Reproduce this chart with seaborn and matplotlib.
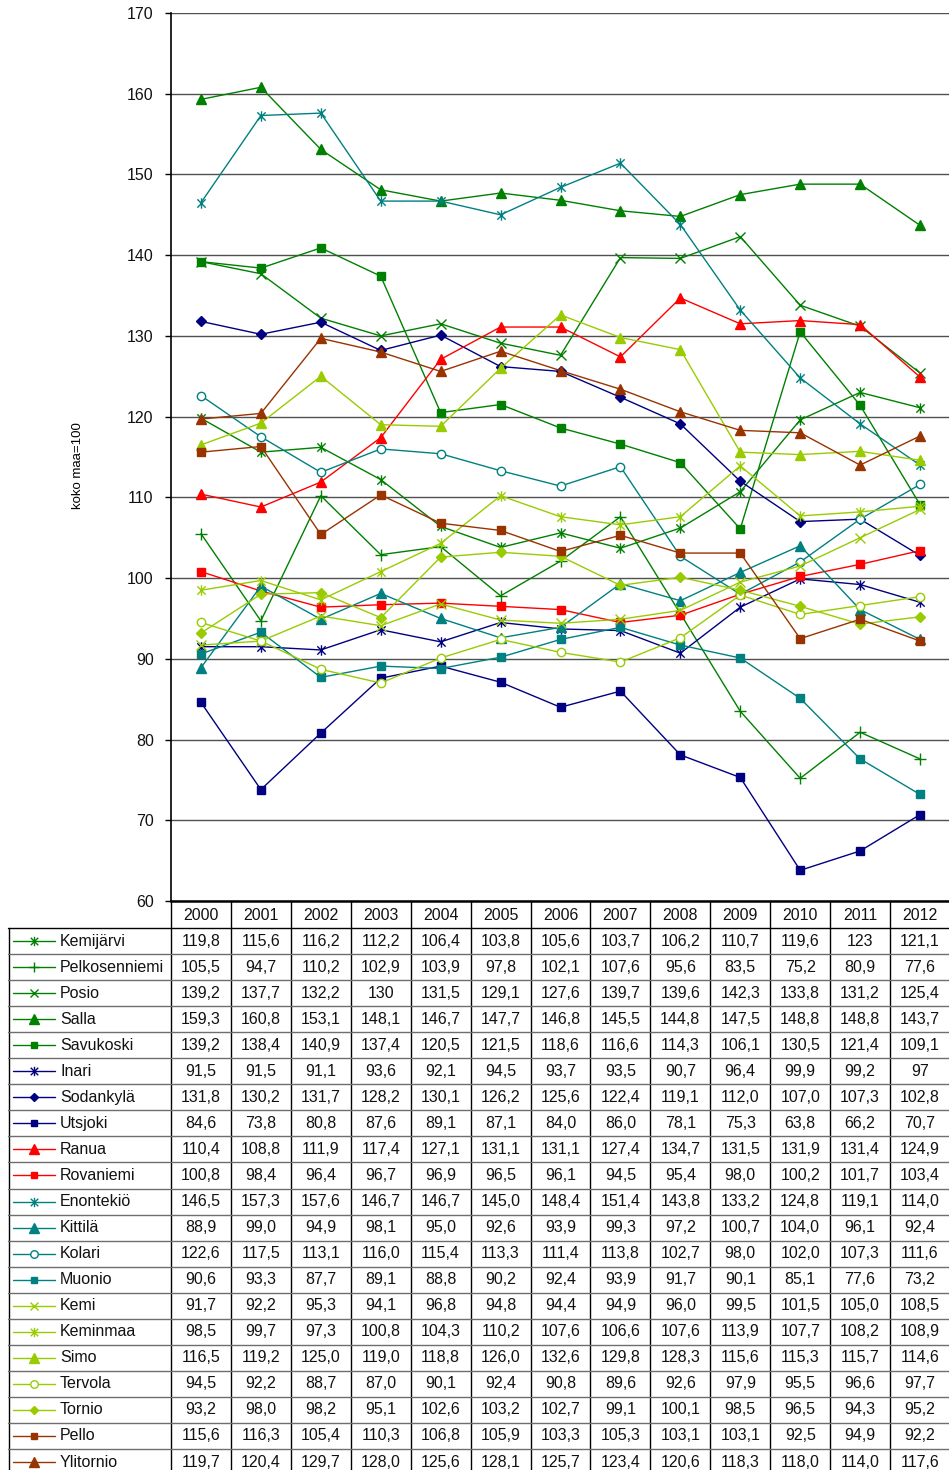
import numpy as np
import pandas as pd
import matplotlib
matplotlib.use("Agg")
import matplotlib.pyplot as plt
from matplotlib.path import Path
import seaborn as sns

# ---------------- data ----------------
years = [2000, 2001, 2002, 2003, 2004, 2005, 2006, 2007, 2008, 2009, 2010, 2011, 2012]

kemijarvi     = [119.8, 115.6, 116.2, 112.2, 106.4, 103.8, 105.6, 103.7, 106.2, 110.7, 119.6, 123.0, 121.1]
pelkosenniemi = [105.5, 94.7, 110.2, 102.9, 103.9, 97.8, 102.1, 107.6, 95.6, 83.5, 75.2, 80.9, 77.6]
posio         = [139.2, 137.7, 132.2, 130.0, 131.5, 129.1, 127.6, 139.7, 139.6, 142.3, 133.8, 131.2, 125.4]
salla         = [159.3, 160.8, 153.1, 148.1, 146.7, 147.7, 146.8, 145.5, 144.8, 147.5, 148.8, 148.8, 143.7]
savukoski     = [139.2, 138.4, 140.9, 137.4, 120.5, 121.5, 118.6, 116.6, 114.3, 106.1, 130.5, 121.4, 109.1]
inari         = [91.5, 91.5, 91.1, 93.6, 92.1, 94.5, 93.7, 93.5, 90.7, 96.4, 99.9, 99.2, 97.0]
sodankyla     = [131.8, 130.2, 131.7, 128.2, 130.1, 126.2, 125.6, 122.4, 119.1, 112.0, 107.0, 107.3, 102.8]
utsjoki       = [84.6, 73.8, 80.8, 87.6, 89.1, 87.1, 84.0, 86.0, 78.1, 75.3, 63.8, 66.2, 70.7]
ranua         = [110.4, 108.8, 111.9, 117.4, 127.1, 131.1, 131.1, 127.4, 134.7, 131.5, 131.9, 131.4, 124.9]
rovaniemi     = [100.8, 98.4, 96.4, 96.7, 96.9, 96.5, 96.1, 94.5, 95.4, 98.0, 100.2, 101.7, 103.4]
enontekio     = [146.5, 157.3, 157.6, 146.7, 146.7, 145.0, 148.4, 151.4, 143.8, 133.2, 124.8, 119.1, 114.0]
kittila       = [88.9, 99.0, 94.9, 98.1, 95.0, 92.6, 93.9, 99.3, 97.2, 100.7, 104.0, 96.1, 92.4]
kolari        = [122.6, 117.5, 113.1, 116.0, 115.4, 113.3, 111.4, 113.8, 102.7, 98.0, 102.0, 107.3, 111.6]
muonio        = [90.6, 93.3, 87.7, 89.1, 88.8, 90.2, 92.4, 93.9, 91.7, 90.1, 85.1, 77.6, 73.2]
kemi          = [91.7, 92.2, 95.3, 94.1, 96.8, 94.8, 94.4, 94.9, 96.0, 99.5, 101.5, 105.0, 108.5]
keminmaa      = [98.5, 99.7, 97.3, 100.8, 104.3, 110.2, 107.6, 106.6, 107.6, 113.9, 107.7, 108.2, 108.9]
simo          = [116.5, 119.2, 125.0, 119.0, 118.8, 126.0, 132.6, 129.8, 128.3, 115.6, 115.3, 115.7, 114.6]
tervola       = [94.5, 92.2, 88.7, 87.0, 90.1, 92.4, 90.8, 89.6, 92.6, 97.9, 95.5, 96.6, 97.7]
tornio        = [93.2, 98.0, 98.2, 95.1, 102.6, 103.2, 102.7, 99.1, 100.1, 98.5, 96.5, 94.3, 95.2]
pello         = [115.6, 116.3, 105.4, 110.3, 106.8, 105.9, 103.3, 105.3, 103.1, 103.1, 92.5, 94.9, 92.2]
ylitornio     = [119.7, 120.4, 129.7, 128.0, 125.6, 128.1, 125.7, 123.4, 120.6, 118.3, 118.0, 114.0, 117.6]

names = ["Kemijärvi", "Pelkosenniemi", "Posio", "Salla", "Savukoski", "Inari",
         "Sodankylä", "Utsjoki", "Ranua", "Rovaniemi", "Enontekiö", "Kittilä",
         "Kolari", "Muonio", "Kemi", "Keminmaa", "Simo", "Tervola", "Tornio",
         "Pello", "Ylitornio"]
series = [kemijarvi, pelkosenniemi, posio, salla, savukoski, inari, sodankyla,
          utsjoki, ranua, rovaniemi, enontekio, kittila, kolari, muonio, kemi,
          keminmaa, simo, tervola, tornio, pello, ylitornio]
# rows whose cells use Excel "General" number format in the data table
general_fmt = ["Kemijärvi", "Pelkosenniemi", "Posio", "Salla", "Savukoski", "Inari"]

# ---------------- styles ----------------
GREEN, NAVY, RED, TEAL, LIME, BROWN = "#008000", "#000080", "#FF0000", "#008080", "#99CC00", "#993300"
star = Path([(-1, -1), (1, 1), (-1, 1), (1, -1), (0, -1.25), (0, 1.25)],
            [Path.MOVETO, Path.LINETO, Path.MOVETO, Path.LINETO, Path.MOVETO, Path.LINETO])
style = {
    "Kemijärvi": (GREEN, star), "Pelkosenniemi": (GREEN, "+"), "Posio": (GREEN, "x"),
    "Salla": (GREEN, "^"), "Savukoski": (GREEN, "s"), "Inari": (NAVY, star),
    "Sodankylä": (NAVY, "D"), "Utsjoki": (NAVY, "s"), "Ranua": (RED, "^"),
    "Rovaniemi": (RED, "s"), "Enontekiö": (TEAL, star), "Kittilä": (TEAL, "^"),
    "Kolari": (TEAL, "o"), "Muonio": (TEAL, "s"), "Kemi": (LIME, "x"),
    "Keminmaa": (LIME, star), "Simo": (LIME, "^"), "Tervola": (LIME, "o"),
    "Tornio": (LIME, "D"), "Pello": (BROWN, "s"), "Ylitornio": (BROWN, "^"),
}
msize = {"^": 7.5, "s": 5.5, "D": 5.0, "o": 6.0, "x": 7.0, "+": 8.0}

def mkw(name):
    c, m = style[name]
    ms = msize.get(m, 7.5) if not isinstance(m, Path) else 7.5
    kw = dict(color=c, marker=m, markersize=ms, markeredgecolor=c, markeredgewidth=1.0)
    kw["markerfacecolor"] = "white" if m == "o" else c
    return kw

df = pd.DataFrame({"Kunta": np.repeat(names, len(years)),
                   "idx": np.tile(np.arange(len(years)), len(names)),
                   "Vuosi": np.tile(years, len(names)),
                   "Arvo": np.concatenate(series)})

# ---------------- figure ----------------
sns.set_style("white")
plt.rcParams["font.family"] = ["Liberation Sans", "DejaVu Sans"]
FS = 11.5

W, H = 949, 1470
fig = plt.figure(figsize=(W / 100, H / 100), dpi=100)
L, R, TOP, BOT = 171, 950, 13, 901
ax = fig.add_axes([L / W, (H - BOT) / H, (R - L) / W, (BOT - TOP) / H])

for name in names:
    sub = df[df["Kunta"] == name]
    sns.lineplot(data=sub, x="idx", y="Arvo", ax=ax, linewidth=1.0,
                 legend=False, errorbar=None, **mkw(name))

ax.set_xlim(-0.5, len(years) - 0.5)
ax.set_ylim(60, 170)
ax.set_yticks(np.arange(60, 171, 10))
ax.set_xticks([])
ax.set_xlabel("")
ax.set_ylabel("")
ax.yaxis.grid(True, color="#505050", linewidth=1.0)
ax.set_axisbelow(True)
for s in ["top", "right"]:
    ax.spines[s].set_visible(False)
ax.spines["left"].set_color("black")
ax.spines["left"].set_linewidth(1.2)
ax.spines["bottom"].set_color("black")
ax.spines["bottom"].set_linewidth(1.8)
ax.tick_params(axis="y", left=True, length=4.5, width=1, color="black",
               pad=8, labelsize=FS, labelcolor="#111111")
fig.text(78 / W, 1 - 466 / H, "koko maa=100", rotation=90, ha="center",
         va="center", fontsize=9.5, color="black")

# ---------------- data table ----------------
COLW = (R - L) / len(years)
def tx(px):
    return -0.5 + (px - L) / COLW

TAB_LEFT = 8
tab_h = H - BOT
tab = fig.add_axes([TAB_LEFT / W, 0, (R - TAB_LEFT) / W, tab_h / H])
tab.set_xlim(tx(TAB_LEFT), tx(R))
tab.set_ylim(tab_h, 0)
tab.axis("off")

HDR = 27
ROWH = 26.05
for k in range(len(years) + 1):
    tab.plot([k - 0.5, k - 0.5], [0, tab_h], color="black", lw=1.0, clip_on=False)
tab.plot([tx(TAB_LEFT + 0.5)] * 2, [HDR, tab_h], color="black", lw=1.0, clip_on=False)
for i in range(len(names) + 1):
    yv = HDR + ROWH * i
    tab.plot([tx(TAB_LEFT), len(years) - 0.5], [yv, yv],
             color="black" if i == 0 else "#6e6e6e", lw=1.0, clip_on=False)

for j, yr in enumerate(years):
    tab.text(j, HDR / 2 + 0.5, str(yr), ha="center", va="center",
             fontsize=FS, color="#111111")

def fmt(name, v):
    s = ("%g" % v) if name in general_fmt else ("%.1f" % v)
    return s.replace(".", ",")

for i, (name, vals) in enumerate(zip(names, series)):
    yc = HDR + ROWH * (i + 0.5)
    kw = mkw(name)
    tab.plot([tx(13), tx(55)], [yc, yc], color=kw["color"], lw=1.0)
    kw2 = dict(kw)
    kw2["markersize"] = kw["markersize"] * 0.9
    tab.plot([tx(34)], [yc], linestyle="none", **kw2)
    tab.text(tx(60), yc, name, ha="left", va="center", fontsize=FS, color="#111111")
    for j, v in enumerate(vals):
        tab.text(j, yc, fmt(name, v), ha="center", va="center",
                 fontsize=FS, color="#111111")

fig.savefig("out.png", dpi=100)
